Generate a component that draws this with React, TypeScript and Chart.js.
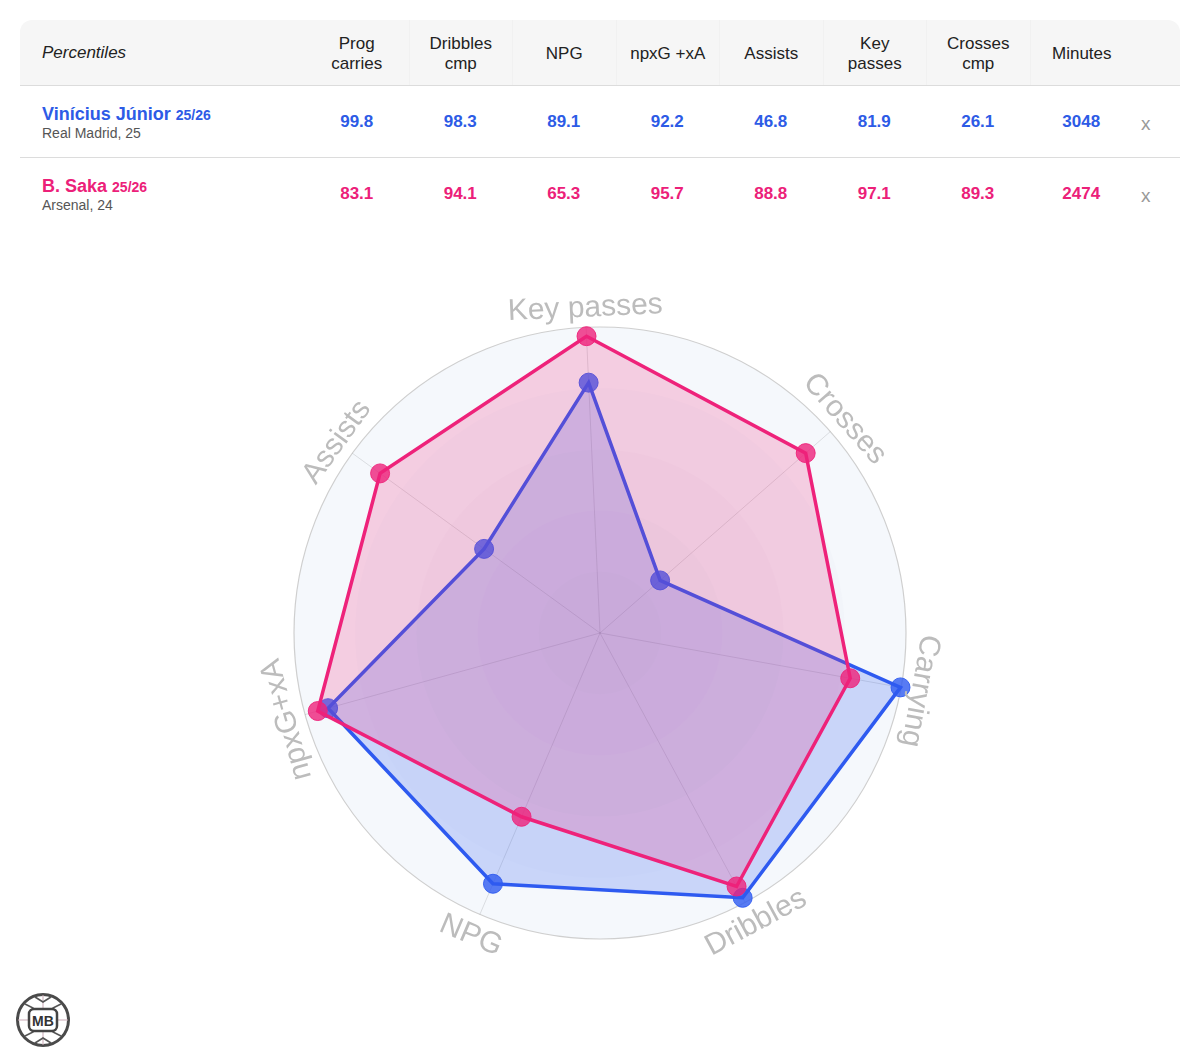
import React, { useEffect, useRef } from "react";
import { Chart, registerables } from "chart.js";

Chart.register(...registerables);

// ---------- data ----------
const axisLabels = ["Key passes", "Crosses", "Carrying", "Dribbles", "NPG", "npxG+xA", "Assists"];
const viniRadar = [81.9, 26.1, 99.8, 98.3, 89.1, 92.2, 46.8];
const sakaRadar = [97.1, 89.3, 83.1, 94.1, 65.3, 95.7, 88.8];

const tableHeaders = ["Prog\ncarries", "Dribbles\ncmp", "NPG", "npxG +xA", "Assists", "Key\npasses", "Crosses\ncmp", "Minutes"];
const viniTable = ["99.8", "98.3", "89.1", "92.2", "46.8", "81.9", "26.1", "3048"];
const sakaTable = ["83.1", "94.1", "65.3", "95.7", "88.8", "97.1", "89.3", "2474"];

const players = [
  { name: "Vinícius Júnior", season: "25/26", sub: "Real Madrid, 25", color: "#2d5be6", values: viniTable },
  { name: "B. Saka", season: "25/26", sub: "Arsenal, 24", color: "#ec2079", values: sakaTable },
];

const BLUE = "rgb(46,90,240)";
const PINK = "rgb(238,34,122)";
const FONT = '"Liberation Sans", Arial, Helvetica, sans-serif';

const ringPlugin = {
  id: "rings",
  beforeDraw(chart: any) {
    const s = chart.scales.r;
    if (!s) return;
    const ctx = chart.ctx;
    const R = s.drawingArea;
    const cx = s.xCenter;
    const cy = s.yCenter;
    ctx.save();
    ctx.beginPath();
    ctx.arc(cx, cy, R, 0, Math.PI * 2);
    ctx.fillStyle = "#f5f8fc";
    ctx.fill();
    for (let k = 4; k >= 1; k--) {
      ctx.beginPath();
      ctx.arc(cx, cy, (R * k) / 5, 0, Math.PI * 2);
      ctx.fillStyle = "rgba(120,125,170,0.025)";
      ctx.fill();
    }
    ctx.beginPath();
    ctx.arc(cx, cy, R, 0, Math.PI * 2);
    ctx.strokeStyle = "#cfcfcf";
    ctx.lineWidth = 1.2;
    ctx.stroke();
    ctx.restore();
  },
};

const labelPlugin = {
  id: "rotLabels",
  afterDraw(chart: any) {
    const s = chart.scales.r;
    if (!s) return;
    const ctx = chart.ctx;
    ctx.save();
    ctx.font = `30px ${FONT}`;
    ctx.fillStyle = "#bcbcbc";
    ctx.textAlign = "center";
    ctx.textBaseline = "middle";
    const labels = chart.data.labels as string[];
    labels.forEach((label, i) => {
      const angle = s.getIndexAngle(i);
      const flip = Math.cos(angle) < -0.5;
      const pos = s.getPointPosition(i, s.drawingArea + (flip ? 23 : 19));
      const rot = flip ? angle + Math.PI : angle;
      ctx.save();
      ctx.translate(pos.x, pos.y);
      ctx.rotate(rot);
      ctx.fillText(label, 0, 0);
      ctx.restore();
    });
    ctx.restore();
  },
};

function RadarChart() {
  const ref = useRef<HTMLCanvasElement | null>(null);
  useEffect(() => {
    if (!ref.current) return;
    const chart = new Chart(ref.current, {
      type: "radar",
      data: {
        labels: axisLabels,
        datasets: [
          {
            label: "Vinícius Júnior",
            data: viniRadar,
            borderColor: BLUE,
            backgroundColor: "rgba(46,90,240,0.22)",
            borderWidth: 3.5,
            pointRadius: 9.5,
            pointBackgroundColor: "rgba(46,90,240,0.8)",
            pointBorderColor: "rgba(46,90,240,0.9)",
            pointBorderWidth: 1,
            fill: true,
            order: 2,
          },
          {
            label: "B. Saka",
            data: sakaRadar,
            borderColor: PINK,
            backgroundColor: "rgba(238,34,122,0.2)",
            borderWidth: 3.5,
            pointRadius: 9.5,
            pointBackgroundColor: "rgba(238,34,122,0.8)",
            pointBorderColor: "rgba(238,34,122,0.9)",
            pointBorderWidth: 1,
            fill: true,
            order: 1,
          },
        ],
      },
      options: {
        animation: false,
        responsive: false,
        devicePixelRatio: 1,
        layout: { padding: 94 },
        plugins: { legend: { display: false }, tooltip: { enabled: false } },
        elements: { line: { tension: 0 } },
        scales: {
          r: {
            min: 0,
            max: 100,
            startAngle: -2.6,
            ticks: { display: false, stepSize: 20 },
            grid: { display: false },
            angleLines: { display: true, color: "rgba(0,0,0,0.11)", lineWidth: 1 },
            pointLabels: { display: false },
          },
        },
      },
      plugins: [ringPlugin, labelPlugin],
    } as any);
    return () => chart.destroy();
  }, []);
  return (
    <canvas
      ref={ref}
      width={800}
      height={800}
      style={{ position: "absolute", left: 200, top: 233, width: 800, height: 800 }}
    />
  );
}

function Logo() {
  return (
    <svg width={60} height={60} viewBox="0 0 60 60" style={{ position: "absolute", left: 13, top: 990 }}>
      <circle cx={30} cy={30} r={25.5} fill="#fff" stroke="#4a4a4a" strokeWidth={3} />
      <g stroke="#c9a9b5" strokeWidth={1}>
        <line x1={30} y1={5} x2={30} y2={55} />
        <line x1={5} y1={30} x2={55} y2={30} />
      </g>
      <g stroke="#555" strokeWidth={1.6} fill="none">
        <path d="M12 14 L20 18 L20 42 L12 46" />
        <path d="M48 14 L40 18 L40 42 L48 46" />
        <path d="M22 7 L30 12 L38 7" />
        <path d="M22 53 L30 48 L38 53" />
      </g>
      <rect x={16} y={19} width={28} height={22} rx={5} fill="#fff" stroke="#444" strokeWidth={2.5} />
      <text x={30} y={35.5} textAnchor="middle" fontFamily={FONT} fontWeight="bold" fontSize={14} fill="#333">
        MB
      </text>
    </svg>
  );
}

export default function App() {
  return (
    <div
      style={{
        position: "absolute",
        left: 0,
        top: 0,
        width: 1200,
        height: 1063,
        background: "#fff",
        fontFamily: FONT,
        overflow: "hidden",
      }}
    >
      <div style={{ position: "absolute", left: 20, top: 20, width: 1160 }}>
        <div
          style={{
            height: 65,
            background: "#f6f6f6",
            borderRadius: "12px 12px 0 0",
            borderBottom: "1px solid #dcdcdc",
            display: "flex",
            alignItems: "center",
            color: "#222",
            fontSize: 17,
          }}
        >
          <div style={{ width: 285, paddingLeft: 22, boxSizing: "border-box", fontStyle: "italic", marginTop: 1 }}>
            Percentiles
          </div>
          {tableHeaders.map((h, i) => (
            <div
              key={i}
              style={{
                width: 103.5,
                height: 65,
                paddingTop: 2,
                display: "flex",
                alignItems: "center",
                justifyContent: "center",
                textAlign: "center",
                lineHeight: "20px",
                whiteSpace: "pre-line",
                borderLeft: i > 0 ? "1px solid #f1f1f1" : "none",
                boxSizing: "border-box",
              }}
            >
              {h}
            </div>
          ))}
        </div>
        {players.map((p, r) => (
          <div
            key={r}
            style={{
              height: 71,
              display: "flex",
              alignItems: "center",
              borderBottom: r === 0 ? "1px solid #dcdcdc" : "none",
            }}
          >
            <div style={{ width: 285, paddingLeft: 22, boxSizing: "border-box", marginTop: -1 }}>
              <div style={{ lineHeight: "22px", color: p.color, fontWeight: "bold", fontSize: 18 }}>
                {p.name} <span style={{ fontSize: 14 }}>{p.season}</span>
              </div>
              <div style={{ lineHeight: "14px", color: "#555", fontSize: 14 }}>{p.sub}</div>
            </div>
            {p.values.map((v, i) => (
              <div
                key={i}
                style={{ width: 103.5, textAlign: "center", color: p.color, fontWeight: "bold", fontSize: 17, marginTop: 1 }}
              >
                {v}
              </div>
            ))}
            <div style={{ width: 47, paddingLeft: 8, boxSizing: "border-box", color: "#999", fontSize: 19, marginTop: 4 }}>
              x
            </div>
          </div>
        ))}
      </div>
      <RadarChart />
      <Logo />
    </div>
  );
}
